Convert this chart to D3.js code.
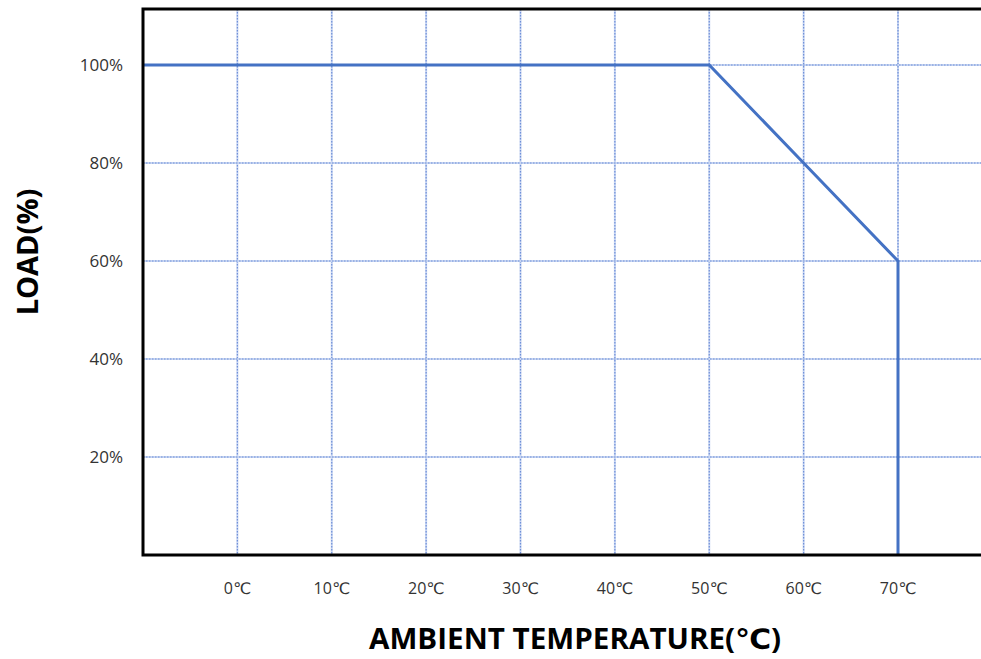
<!DOCTYPE html>
<html><head><meta charset="utf-8">
<script src="https://cdn.jsdelivr.net/npm/d3@7"></script>
<style>body{margin:0;background:#fff}svg{display:block}</style>
</head><body>
<script>
const tempTicks = [0,10,20,30,40,50,60,70];
const tempLabels = ["0℃","10℃","20℃","30℃","40℃","50℃","60℃","70℃"];
const loadTicks = [20,40,60,80,100];
const loadLabels = ["20%","40%","60%","80%","100%"];
const curveTemp = [-10,50,60,70,70];
const curveLoad = [100,100,80,60,0];

(function(){
const W=981,H=659;
const svg=d3.select("body").append("svg").attr("width",W).attr("height",H);
const x=d3.scaleLinear().domain([-10,70]).range([143,898]);
const y=d3.scaleLinear().domain([0,100]).range([555,65]);
const rightEdge=1000, topEdge=9;
const font="'Open Sans', 'DejaVu Sans', sans-serif";

const g=svg.append("g");
g.selectAll(".vg").data(tempTicks).join("line")
 .attr("x1",d=>x(d)).attr("x2",d=>x(d)).attr("y1",topEdge).attr("y2",555)
 .attr("stroke","#c9d6f2").attr("stroke-width",2);
g.selectAll(".vg2").data(tempTicks).join("line")
 .attr("x1",d=>x(d)).attr("x2",d=>x(d)).attr("y1",topEdge).attr("y2",555)
 .attr("stroke","#6f8fd8").attr("stroke-width",1.2).attr("stroke-dasharray","1.5,1.5");
g.selectAll(".hg").data(loadTicks).join("line")
 .attr("x1",143).attr("x2",rightEdge).attr("y1",d=>y(d)).attr("y2",d=>y(d))
 .attr("stroke","#c9d6f2").attr("stroke-width",2);
g.selectAll(".hg2").data(loadTicks).join("line")
 .attr("x1",143).attr("x2",rightEdge).attr("y1",d=>y(d)).attr("y2",d=>y(d))
 .attr("stroke","#6f8fd8").attr("stroke-width",1.2).attr("stroke-dasharray","1.5,1.5");

const pts=curveTemp.map((t,i)=>[t,curveLoad[i]]);
svg.append("path").datum(pts)
 .attr("d",d3.line().x(d=>x(d[0])).y(d=>y(d[1])))
 .attr("fill","none").attr("stroke","#4472c4").attr("stroke-width",3);

svg.append("path").attr("d",`M${rightEdge},${topEdge}H143V555H${rightEdge}`)
 .attr("fill","none").attr("stroke","#000").attr("stroke-width",3);

svg.selectAll(".yl").data(loadTicks).join("text")
 .attr("x",123).attr("y",d=>y(d)+6).attr("text-anchor","end")
 .attr("font-family",font).attr("font-size",17).attr("fill","#333")
 .text((d,i)=>loadLabels[i]);
svg.selectAll(".xl").data(tempTicks).join("text")
 .attr("x",d=>x(d)).attr("y",594).attr("text-anchor","middle")
 .attr("font-family",font).attr("font-size",16).attr("fill","#333")
 .text((d,i)=>tempLabels[i]);

svg.append("text").attr("x",575).attr("y",649).attr("text-anchor","middle")
 .attr("font-family",font).attr("font-weight","bold").attr("font-size",28).attr("fill","#000")
 .attr("textLength",412).attr("lengthAdjust","spacingAndGlyphs")
 .text("AMBIENT TEMPERATURE(℃)");
svg.append("text").attr("transform","translate(38,252) rotate(-90)").attr("text-anchor","middle")
 .attr("font-family",font).attr("font-weight","bold").attr("font-size",29).attr("fill","#000")
 .text("LOAD(%)");
})();
</script>
</body></html>
